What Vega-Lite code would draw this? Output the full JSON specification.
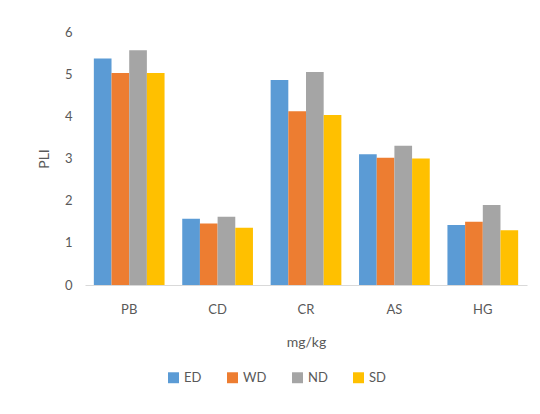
{
  "$schema": "https://vega.github.io/schema/vega-lite/v6.json",
  "autosize": {"type": "none"},
  "width": 442,
  "height": 253,
  "padding": {"left": 85, "top": 32, "right": 13, "bottom": 129},
  "background": "white",
  "config": {
    "view": {"stroke": null},
    "font": "Lato",
    "axis": {"labelColor": "#595959", "titleColor": "#595959", "labelFontSize": 13, "titleFontSize": 14, "titleFontWeight": "normal", "grid": false, "ticks": false, "tickSize": 0},
    "legend": {"labelColor": "#595959", "labelFontSize": 13}
  },
  "data": {
    "values": [
      {"metal": "PB", "type": "ED", "pli": 5.37},
      {"metal": "PB", "type": "WD", "pli": 5.03},
      {"metal": "PB", "type": "ND", "pli": 5.57},
      {"metal": "PB", "type": "SD", "pli": 5.03},
      {"metal": "CD", "type": "ED", "pli": 1.57},
      {"metal": "CD", "type": "WD", "pli": 1.46},
      {"metal": "CD", "type": "ND", "pli": 1.62},
      {"metal": "CD", "type": "SD", "pli": 1.36},
      {"metal": "CR", "type": "ED", "pli": 4.86},
      {"metal": "CR", "type": "WD", "pli": 4.12},
      {"metal": "CR", "type": "ND", "pli": 5.05},
      {"metal": "CR", "type": "SD", "pli": 4.03},
      {"metal": "AS", "type": "ED", "pli": 3.1},
      {"metal": "AS", "type": "WD", "pli": 3.02},
      {"metal": "AS", "type": "ND", "pli": 3.3},
      {"metal": "AS", "type": "SD", "pli": 3.0},
      {"metal": "HG", "type": "ED", "pli": 1.42},
      {"metal": "HG", "type": "WD", "pli": 1.5},
      {"metal": "HG", "type": "ND", "pli": 1.9},
      {"metal": "HG", "type": "SD", "pli": 1.3}
    ]
  },
  "mark": {"type": "bar"},
  "encoding": {
    "x": {
      "field": "metal", "type": "nominal", "sort": ["PB", "CD", "CR", "AS", "HG"],
      "scale": {"paddingInner": 0.2, "paddingOuter": 0.1},
      "axis": {"title": "mg/kg", "labelAngle": 0, "domainColor": "#d9d9d9", "labelPadding": 18, "titlePadding": 19}
    },
    "xOffset": {"field": "type", "type": "nominal", "sort": ["ED", "WD", "ND", "SD"], "scale": {"paddingInner": 0, "paddingOuter": 0}},
    "y": {
      "field": "pli", "type": "quantitative",
      "scale": {"domain": [0, 6], "nice": false},
      "axis": {"title": "PLI", "values": [0, 1, 2, 3, 4, 5, 6], "domain": false, "labelPadding": 13, "titlePadding": 13}
    },
    "color": {
      "field": "type", "type": "nominal", "sort": ["ED", "WD", "ND", "SD"],
      "scale": {"domain": ["ED", "WD", "ND", "SD"], "range": ["#5B9BD5", "#ED7D31", "#A5A5A5", "#FFC000"]},
      "legend": {"title": null, "orient": "none", "direction": "horizontal", "legendX": 82, "legendY": 339, "symbolType": "square", "symbolSize": 120, "symbolStrokeWidth": 0, "columnPadding": 24, "labelOffset": 4}
    }
  }
}
